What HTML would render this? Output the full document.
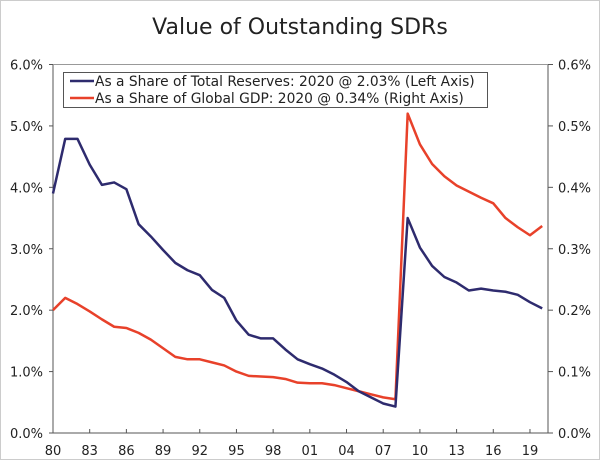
<!DOCTYPE html>
<html><head><meta charset="utf-8"><style>
body{margin:0;background:#fff;}
svg text{font-family:"DejaVu Sans","Liberation Sans",sans-serif;fill:#222;}
</style></head><body>
<svg width="600" height="460" xmlns="http://www.w3.org/2000/svg">
<rect x="0.5" y="0.5" width="599" height="459" fill="#fff" stroke="#ccc"/>
<text x="300" y="34" font-size="22" text-anchor="middle">Value of Outstanding SDRs</text>
<g id="axes"></g>
<g id="series"></g>
<g>
<rect x="63.5" y="72.5" width="424" height="35" fill="#fff" stroke="#555"/>
<line x1="70" y1="81" x2="94" y2="81" stroke="#2e2b6e" stroke-width="2.5"/>
<text x="95" y="86" font-size="13.8">As a Share of Total Reserves: 2020 @ 2.03% (Left Axis)</text>
<line x1="70" y1="98" x2="94" y2="98" stroke="#e8412a" stroke-width="2.5"/>
<text x="95" y="103" font-size="13.8">As a Share of Global GDP: 2020 @ 0.34% (Right Axis)</text>
</g>
</svg>
<script>
const years = [1980,1981,1982,1983,1984,1985,1986,1987,1988,1989,1990,1991,1992,1993,1994,1995,1996,1997,1998,1999,2000,2001,2002,2003,2004,2005,2006,2007,2008,2009,2010,2011,2012,2013,2014,2015,2016,2017,2018,2019,2020];
const reservesShare = [3.9,4.79,4.79,4.37,4.04,4.08,3.97,3.4,3.2,2.98,2.77,2.65,2.57,2.33,2.2,1.83,1.6,1.54,1.54,1.36,1.2,1.12,1.05,0.95,0.83,0.68,0.58,0.48,0.43,3.5,3.02,2.72,2.54,2.45,2.32,2.35,2.32,2.3,2.25,2.13,2.03];
const gdpShare = [0.20,0.22,0.21,0.198,0.185,0.173,0.171,0.163,0.152,0.138,0.124,0.12,0.12,0.115,0.11,0.1,0.093,0.092,0.091,0.088,0.082,0.081,0.081,0.078,0.073,0.068,0.063,0.058,0.055,0.52,0.47,0.438,0.418,0.403,0.393,0.383,0.374,0.35,0.335,0.322,0.337];
const leftTicks = ["0.0%","1.0%","2.0%","3.0%","4.0%","5.0%","6.0%"];
const rightTicks = ["0.0%","0.1%","0.2%","0.3%","0.4%","0.5%","0.6%"];
const xTickLabels = ["80","83","86","89","92","95","98","01","04","07","10","13","16","19"];

const NS="http://www.w3.org/2000/svg";
const L=53,R=548,T=64.5,B=433,step=12.23;
const xs=y=>L+(y-1980)*step;
const yl=v=>B-(v/6)*(B-T);
const yr=v=>B-(v/0.6)*(B-T);
function mk(tag,attrs,parent,text){const e=document.createElementNS(NS,tag);for(const k in attrs)e.setAttribute(k,attrs[k]);if(text!==undefined)e.textContent=text;parent.appendChild(e);return e;}
const ax=document.getElementById('axes');
let e;
e=mk('line',{x1:L,y1:T,x2:L,y2:B,stroke:'#555'},ax);


e=mk('line',{x1:R,y1:T,x2:R,y2:B,stroke:'#555'},ax);


e=mk('line',{x1:L,y1:T,x2:R,y2:T,stroke:'#999'},ax);


e=mk('line',{x1:L,y1:B,x2:R,y2:B,stroke:'#555'},ax);


leftTicks.forEach((t,i)=>{const y=B-i*(B-T)/6;
 mk('line',{x1:L-4,y1:y,x2:L,y2:y,stroke:'#555'},ax);
 e=mk('text',{x:L-10,y:y+5,'font-size':13,'text-anchor':'end'},ax,t);
 
 });
rightTicks.forEach((t,i)=>{const y=B-i*(B-T)/6;
 mk('line',{x1:R,y1:y,x2:R+5,y2:y,stroke:'#555'},ax);
 e=mk('text',{x:R+10,y:y+5,'font-size':13},ax,t);
 
 });
xTickLabels.forEach((t,i)=>{const x=xs(1980+3*i);
 mk('line',{x1:x,y1:B-4,x2:x,y2:B,stroke:'#555'},ax);
 e=mk('text',{x:x,y:B+22,'font-size':13,'text-anchor':'middle'},ax,t);
 
 });
const sg=document.getElementById('series');
e=mk('polyline',{points:years.map((y,i)=>xs(y)+','+yr(gdpShare[i])).join(' '),fill:'none',stroke:'#e8412a','stroke-width':2.5,'stroke-linejoin':'round'},sg);


e=mk('polyline',{points:years.map((y,i)=>xs(y)+','+yl(reservesShare[i])).join(' '),fill:'none',stroke:'#2e2b6e','stroke-width':2.5,'stroke-linejoin':'round'},sg);


</script>
</body></html>
